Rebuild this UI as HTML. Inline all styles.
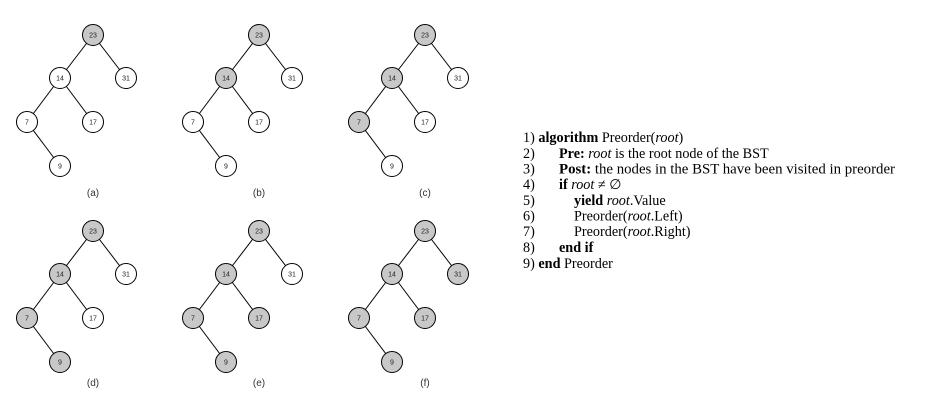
<!DOCTYPE html>
<html><head><meta charset="utf-8"><style>
html,body{margin:0;padding:0;background:#fff;width:947px;height:414px;overflow:hidden}
svg{position:absolute;left:0;top:0}
.n{font-family:"Liberation Sans",sans-serif;font-size:7px;fill:#222;text-anchor:middle;stroke:none}
.l{font-family:"Liberation Sans",sans-serif;font-size:10px;fill:#333;text-anchor:middle;stroke:none}
.a{font-family:"Liberation Serif",serif;font-size:14.2px;fill:#000}
.b{font-weight:bold}.i{font-style:italic}
line{stroke:#000;stroke-width:1}
circle{stroke:#000;stroke-width:1}
.g{fill:#c8c8c8}.w{fill:#fff}
</style></head><body>
<svg width="947" height="414" viewBox="0 0 947 414">
<g transform="translate(93,35)">
<line x1="0" y1="0" x2="-33" y2="43"/><line x1="0" y1="0" x2="33" y2="43"/><line x1="-33" y1="43" x2="-66" y2="87"/><line x1="-33" y1="43" x2="0" y2="87"/><line x1="-66" y1="87" x2="-33" y2="131"/>
<circle class="g" cx="0" cy="0" r="10.5"/><circle class="w" cx="-33" cy="43" r="10.5"/><circle class="w" cx="33" cy="43" r="10.5"/><circle class="w" cx="-66" cy="87" r="10.5"/><circle class="w" cx="0" cy="87" r="10.5"/><circle class="w" cx="-33" cy="131" r="10.5"/>
<text class="n" x="0" y="2.5">23</text><text class="n" x="-33" y="45.5">14</text><text class="n" x="33" y="45.5">31</text><text class="n" x="-66" y="89.5">7</text><text class="n" x="0" y="89.5">17</text><text class="n" x="-33" y="133.5">9</text>
<text class="l" x="0" y="161">(a)</text></g>
<g transform="translate(259,35)">
<line x1="0" y1="0" x2="-33" y2="43"/><line x1="0" y1="0" x2="33" y2="43"/><line x1="-33" y1="43" x2="-66" y2="87"/><line x1="-33" y1="43" x2="0" y2="87"/><line x1="-66" y1="87" x2="-33" y2="131"/>
<circle class="g" cx="0" cy="0" r="10.5"/><circle class="g" cx="-33" cy="43" r="10.5"/><circle class="w" cx="33" cy="43" r="10.5"/><circle class="w" cx="-66" cy="87" r="10.5"/><circle class="w" cx="0" cy="87" r="10.5"/><circle class="w" cx="-33" cy="131" r="10.5"/>
<text class="n" x="0" y="2.5">23</text><text class="n" x="-33" y="45.5">14</text><text class="n" x="33" y="45.5">31</text><text class="n" x="-66" y="89.5">7</text><text class="n" x="0" y="89.5">17</text><text class="n" x="-33" y="133.5">9</text>
<text class="l" x="0" y="161">(b)</text></g>
<g transform="translate(425,35)">
<line x1="0" y1="0" x2="-33" y2="43"/><line x1="0" y1="0" x2="33" y2="43"/><line x1="-33" y1="43" x2="-66" y2="87"/><line x1="-33" y1="43" x2="0" y2="87"/><line x1="-66" y1="87" x2="-33" y2="131"/>
<circle class="g" cx="0" cy="0" r="10.5"/><circle class="g" cx="-33" cy="43" r="10.5"/><circle class="w" cx="33" cy="43" r="10.5"/><circle class="g" cx="-66" cy="87" r="10.5"/><circle class="w" cx="0" cy="87" r="10.5"/><circle class="w" cx="-33" cy="131" r="10.5"/>
<text class="n" x="0" y="2.5">23</text><text class="n" x="-33" y="45.5">14</text><text class="n" x="33" y="45.5">31</text><text class="n" x="-66" y="89.5">7</text><text class="n" x="0" y="89.5">17</text><text class="n" x="-33" y="133.5">9</text>
<text class="l" x="0" y="161">(c)</text></g>
<g transform="translate(93,231)">
<line x1="0" y1="0" x2="-33" y2="43"/><line x1="0" y1="0" x2="33" y2="43"/><line x1="-33" y1="43" x2="-66" y2="87"/><line x1="-33" y1="43" x2="0" y2="87"/><line x1="-66" y1="87" x2="-33" y2="131"/>
<circle class="g" cx="0" cy="0" r="10.5"/><circle class="g" cx="-33" cy="43" r="10.5"/><circle class="w" cx="33" cy="43" r="10.5"/><circle class="g" cx="-66" cy="87" r="10.5"/><circle class="w" cx="0" cy="87" r="10.5"/><circle class="g" cx="-33" cy="131" r="10.5"/>
<text class="n" x="0" y="2.5">23</text><text class="n" x="-33" y="45.5">14</text><text class="n" x="33" y="45.5">31</text><text class="n" x="-66" y="89.5">7</text><text class="n" x="0" y="89.5">17</text><text class="n" x="-33" y="133.5">9</text>
<text class="l" x="0" y="155">(d)</text></g>
<g transform="translate(259,231)">
<line x1="0" y1="0" x2="-33" y2="43"/><line x1="0" y1="0" x2="33" y2="43"/><line x1="-33" y1="43" x2="-66" y2="87"/><line x1="-33" y1="43" x2="0" y2="87"/><line x1="-66" y1="87" x2="-33" y2="131"/>
<circle class="g" cx="0" cy="0" r="10.5"/><circle class="g" cx="-33" cy="43" r="10.5"/><circle class="w" cx="33" cy="43" r="10.5"/><circle class="g" cx="-66" cy="87" r="10.5"/><circle class="g" cx="0" cy="87" r="10.5"/><circle class="g" cx="-33" cy="131" r="10.5"/>
<text class="n" x="0" y="2.5">23</text><text class="n" x="-33" y="45.5">14</text><text class="n" x="33" y="45.5">31</text><text class="n" x="-66" y="89.5">7</text><text class="n" x="0" y="89.5">17</text><text class="n" x="-33" y="133.5">9</text>
<text class="l" x="0" y="155">(e)</text></g>
<g transform="translate(425,231)">
<line x1="0" y1="0" x2="-33" y2="43"/><line x1="0" y1="0" x2="33" y2="43"/><line x1="-33" y1="43" x2="-66" y2="87"/><line x1="-33" y1="43" x2="0" y2="87"/><line x1="-66" y1="87" x2="-33" y2="131"/>
<circle class="g" cx="0" cy="0" r="10.5"/><circle class="g" cx="-33" cy="43" r="10.5"/><circle class="g" cx="33" cy="43" r="10.5"/><circle class="g" cx="-66" cy="87" r="10.5"/><circle class="g" cx="0" cy="87" r="10.5"/><circle class="g" cx="-33" cy="131" r="10.5"/>
<text class="n" x="0" y="2.5">23</text><text class="n" x="-33" y="45.5">14</text><text class="n" x="33" y="45.5">31</text><text class="n" x="-66" y="89.5">7</text><text class="n" x="0" y="89.5">17</text><text class="n" x="-33" y="133.5">9</text>
<text class="l" x="0" y="155">(f)</text></g>

<text class="a" x="523" y="142">1) <tspan class="b">algorithm</tspan> Preorder(<tspan class="i">root</tspan>)</text>
<text class="a" x="523" y="158">2)</text><text class="a" x="559" y="158"><tspan class="b">Pre:</tspan>  <tspan class="i">root</tspan> is the root node of the BST</text>
<text class="a" x="523" y="173.5">3)</text><text class="a" x="559" y="173.5" textLength="336" lengthAdjust="spacingAndGlyphs"><tspan class="b">Post:</tspan> the nodes in the BST have been visited in preorder</text>
<text class="a" x="523" y="189">4)</text><text class="a" x="559" y="189"><tspan class="b">if</tspan> <tspan class="i">root</tspan>  ≠ ∅</text>
<text class="a" x="523" y="205">5)</text><text class="a" x="574" y="205"><tspan class="b">yield</tspan> <tspan class="i">root</tspan>.Value</text>
<text class="a" x="523" y="220.5">6)</text><text class="a" x="574" y="220.5">Preorder(<tspan class="i">root</tspan>.Left)</text>
<text class="a" x="523" y="236">7)</text><text class="a" x="574" y="236">Preorder(<tspan class="i">root</tspan>.Right)</text>
<text class="a" x="523" y="252">8)</text><text class="a" x="559" y="252"><tspan class="b">end if</tspan></text>
<text class="a" x="523" y="268">9) <tspan class="b">end</tspan> Preorder</text>
</svg>
</body></html>
